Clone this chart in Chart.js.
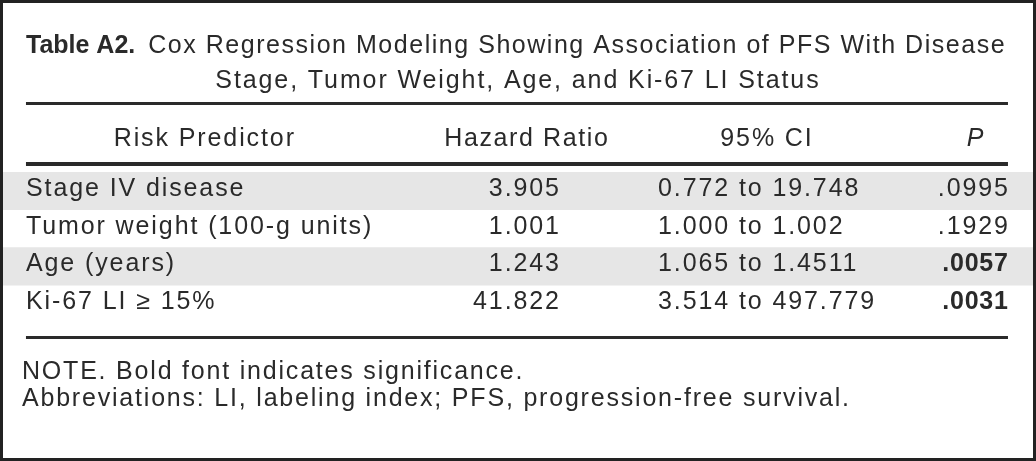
<!DOCTYPE html>
<html>
<head>
<meta charset="utf-8">
<script src="https://cdn.jsdelivr.net/npm/chart.js@4/dist/chart.umd.min.js"></script>
<style>
  html, body { margin: 0; padding: 0; background: #fff; }
  #wrap { width: 1036px; height: 461px; }
</style>
</head>
<body>
<div id="wrap"><canvas id="tableChart" width="1036" height="461"></canvas></div>
<script>
// Дані таблиці
const predictors = ['Stage IV disease', 'Tumor weight (100-g units)', 'Age (years)', 'Ki-67 LI \u2265 15%'];
const hazardRatios = ['3.905', '1.001', '1.243', '41.822'];
const ciLow = ['0.772', '1.000', '1.065', '3.514'];
const ciHigh = ['19.748', '1.002', '1.4511', '497.779'];
const pValues = ['.0995', '.1929', '.0057', '.0031'];
const significant = [false, false, true, true];
const headers = ['Risk Predictor', 'Hazard Ratio', '95% CI', 'P'];
const titleBold = 'Table A2.';
const titleRest = 'Cox Regression Modeling Showing Association of PFS With Disease';
const titleLine2 = 'Stage, Tumor Weight, Age, and Ki-67 LI Status';
const notes = ['NOTE. Bold font indicates significance.',
               'Abbreviations: LI, labeling index; PFS, progression-free survival.'];

const INK = '#2a2a2a';
const FONT = '"Liberation Sans", Arial, sans-serif';
const SPACING = 1.9; // розрядка тексту, px

// Положення колонок в одиницях осі x (0..100 = ширина таблиці)
const col = {
    left: 2.23, rule: 97.57,
    hrRight: 53.98, ciLeft: 63.59, pRight: 97.57,
    hdr: [19.5, 50.78, 74.08, 94.37]
};

// Плагін, що малює текст, лінії і рамку
const tablePlugin = {
    id: 'tablePlugin',
    afterDatasetsDraw(chart) {
        const ctx = chart.ctx;
        const x = chart.scales.x;
        const y = chart.scales.y;
        const W = chart.width, H = chart.height;
        const px = v => x.getPixelForValue(v);

        // Текст з розрядкою; для вирівнювання праворуч прибираємо хвостовий відступ
        function text(str, tx, ty, font, align, spacing) {
            ctx.font = font;
            ctx.letterSpacing = spacing + 'px';
            ctx.textAlign = align;
            let dx = 0;
            if (align === 'right') dx = spacing;
            if (align === 'center') dx = spacing / 2;
            ctx.fillText(str, tx + dx, ty);
        }

        ctx.save();
        ctx.fillStyle = INK;
        ctx.textBaseline = 'alphabetic';

        // Заголовок
        const startX = px(col.left);
        const boldFont = 'bold 25px ' + FONT;
        ctx.font = boldFont;
        ctx.letterSpacing = '0px';
        const boldW = ctx.measureText(titleBold).width;
        text(titleBold, startX, 53, boldFont, 'left', 0);
        text(titleRest, startX + boldW + 13, 53, '25px ' + FONT, 'left', 1.53);
        text(titleLine2, (px(col.left) + px(col.rule)) / 2, 88, '25px ' + FONT, 'center', SPACING);

        // Горизонтальні лінії
        ctx.fillRect(px(col.left), 102, px(col.rule) - px(col.left), 3);
        ctx.fillRect(px(col.left), 162, px(col.rule) - px(col.left), 4);
        ctx.fillRect(px(col.left), 336, px(col.rule) - px(col.left), 3);

        // Шапка
        headers.forEach((h, i) => {
            text(h, px(col.hdr[i]), 146, (i === 3 ? 'italic 25px ' : '25px ') + FONT, 'center', i === 1 ? 1.6 : SPACING);
        });

        // Рядки
        predictors.forEach((p, i) => {
            const by = y.getPixelForValue(i) + 5;
            const f = '25px ' + FONT;
            text(p, px(col.left), by, f, 'left', SPACING);
            text(hazardRatios[i], px(col.hrRight), by, f, 'right', SPACING);
            text(ciLow[i] + ' to ' + ciHigh[i], px(col.ciLeft), by, f, 'left', SPACING);
            text(pValues[i], px(col.pRight), by, (significant[i] ? 'bold 25px ' : '25px ') + FONT, 'right', significant[i] ? 0.8 : SPACING);
        });

        // Примітки
        text(notes[0], px(col.left) - 4, 379, '25px ' + FONT, 'left', 1.8);
        text(notes[1], px(col.left) - 4, 406, '25px ' + FONT, 'left', 1.8);

        // Рамка
        ctx.letterSpacing = '0px';
        ctx.lineWidth = 3;
        ctx.strokeStyle = '#222';
        ctx.strokeRect(1.5, 1.5, W - 3, H - 3);
        ctx.restore();
    }
};

new Chart(document.getElementById('tableChart'), {
    type: 'bar',
    data: {
        labels: predictors,
        datasets: [{
            // Сірі смуги на непарних рядках
            data: predictors.map((_, i) => (i % 2 === 0 ? [0, 100] : null)),
            backgroundColor: '#e6e6e6',
            borderWidth: 0,
            barPercentage: 1,
            categoryPercentage: 1
        }]
    },
    options: {
        indexAxis: 'y',
        responsive: false,
        animation: false,
        layout: { padding: { left: 3, right: 3, top: 172, bottom: 138 } },
        scales: {
            x: { type: 'linear', min: 0, max: 100, display: false },
            y: { type: 'category', display: false }
        },
        plugins: {
            legend: { display: false },
            tooltip: { enabled: false }
        }
    },
    plugins: [tablePlugin]
});
</script>
</body>
</html>
